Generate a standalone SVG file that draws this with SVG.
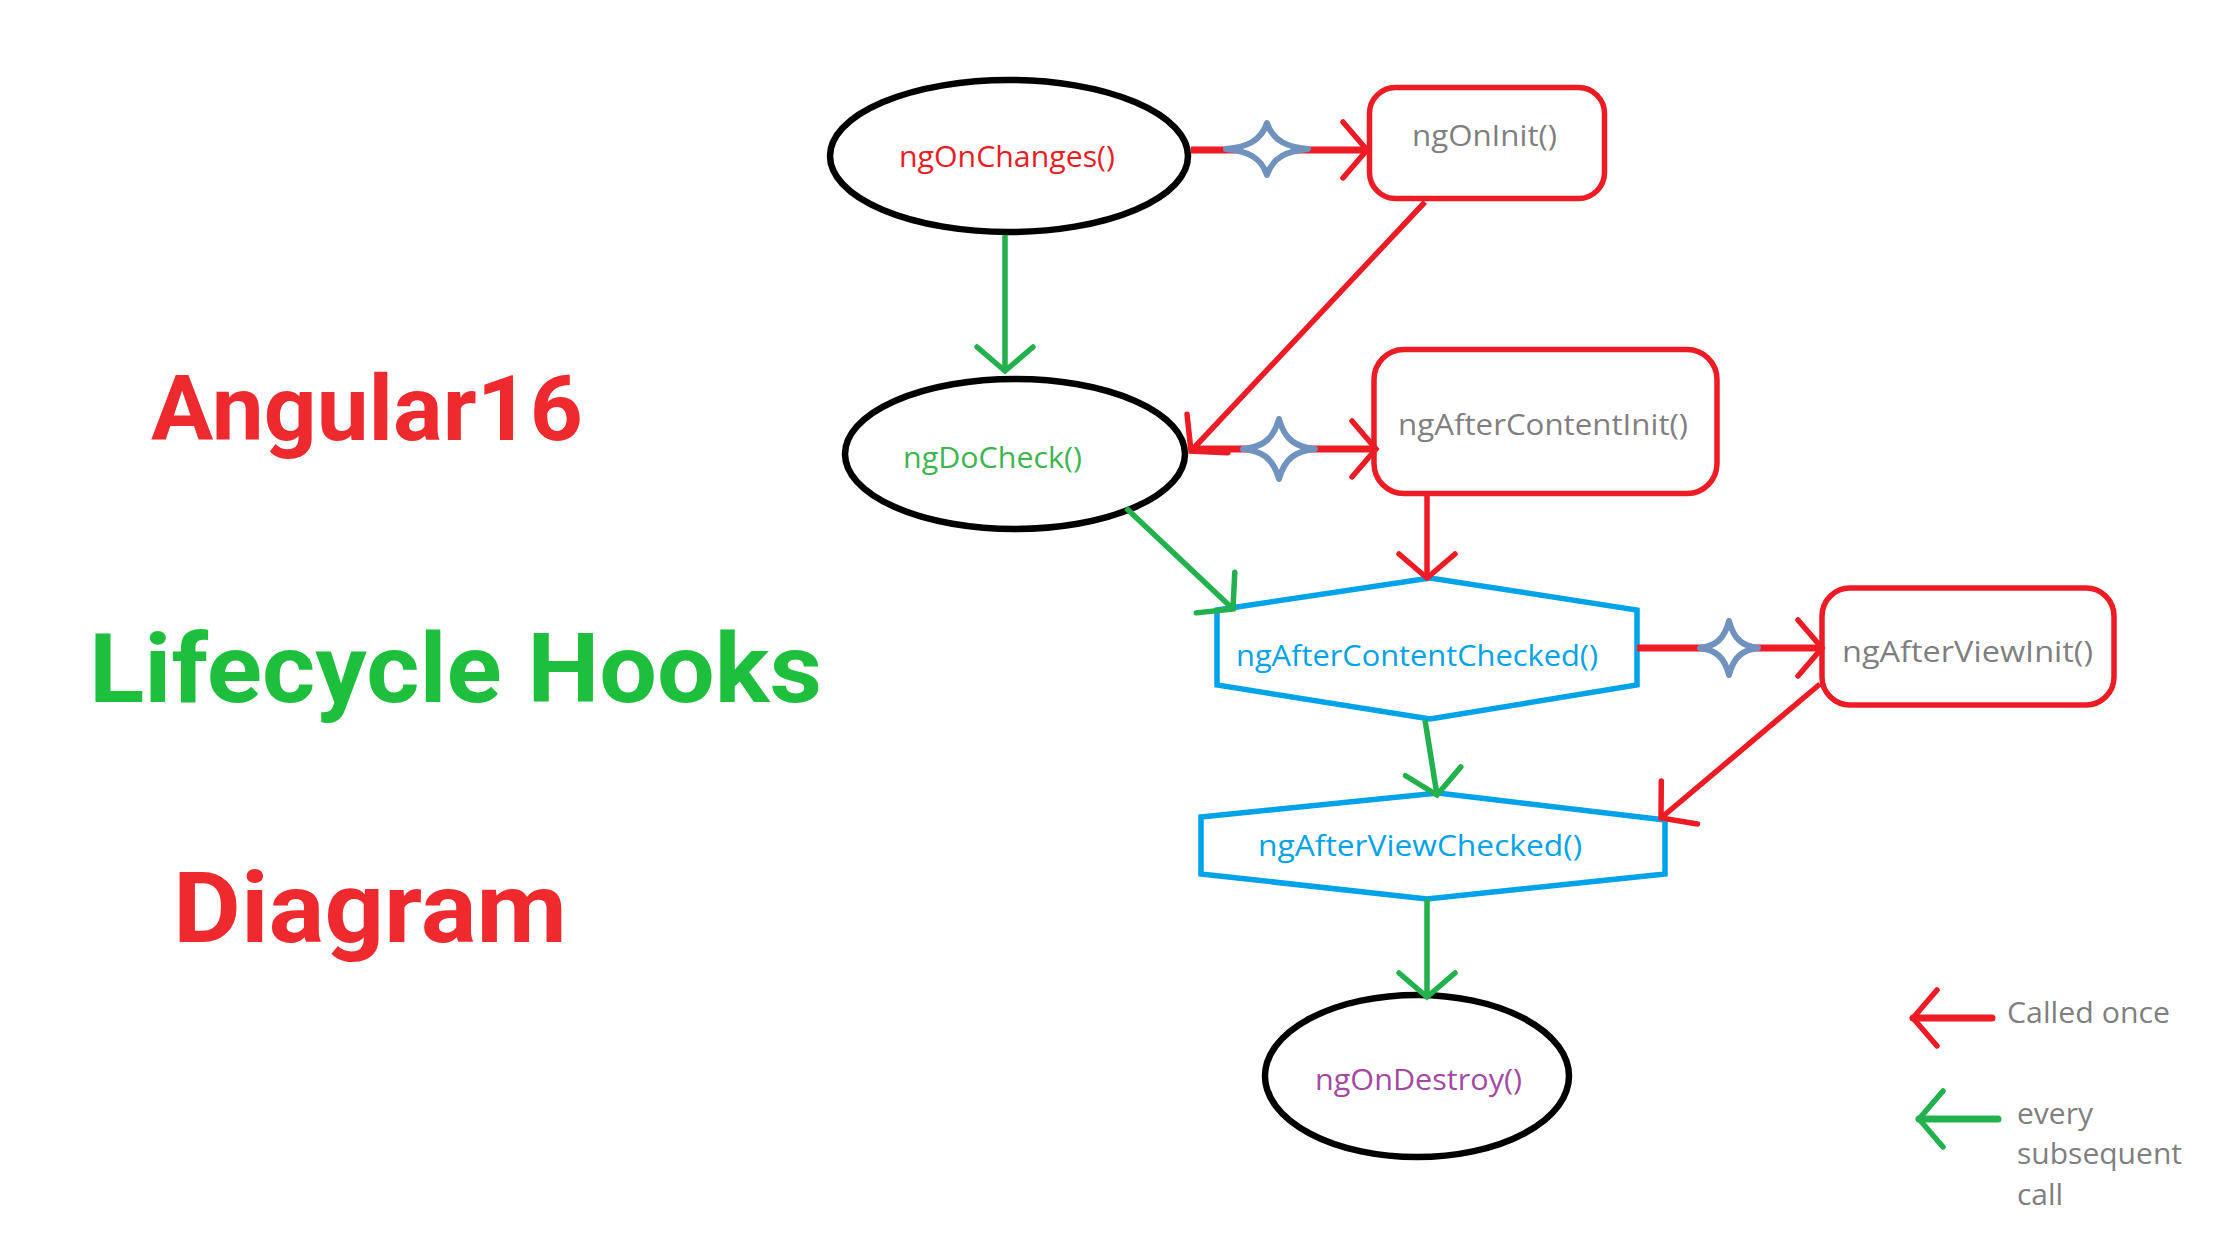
<svg xmlns="http://www.w3.org/2000/svg" width="2240" height="1260" viewBox="0 0 2240 1260">
<style>
.title{font-family:Roboto,"Liberation Sans",sans-serif;font-weight:700}
.lbl{font-family:"Open Sans","Liberation Sans",sans-serif;font-size:30px}
.ell{fill:#fff;stroke:#000;stroke-width:6.5}
.box{fill:#fff;stroke:#ED1C24;stroke-width:5.5}
.hex{fill:#fff;stroke:#00A2E8;stroke-width:5.5;stroke-linejoin:miter}
.cr{fill:none;stroke:#ED1C24;stroke-width:5.5;marker-end:url(#aR)}
.cg{fill:none;stroke:#22B14C;stroke-width:5.5;marker-end:url(#aG)}
.thick{stroke-width:7}
.star{fill:#fff;stroke:#7092BE;stroke-width:6;stroke-linejoin:round}
.grey{fill:#7F7F7F}
</style>
<defs>
<marker id="aR" markerUnits="userSpaceOnUse" viewBox="-30 -34 36 68" refX="0" refY="0" markerWidth="36" markerHeight="68" orient="auto" overflow="visible">
<path d="M-24,-28 L0,0 L-24,28" fill="none" stroke="#ED1C24" stroke-width="5.5" stroke-linecap="round"/>
</marker>
<marker id="aG" markerUnits="userSpaceOnUse" viewBox="-30 -34 36 68" refX="0" refY="0" markerWidth="36" markerHeight="68" orient="auto" overflow="visible">
<path d="M-24,-28 L0,0 L-24,28" fill="none" stroke="#22B14C" stroke-width="5.5" stroke-linecap="round"/>
</marker>
</defs>
<rect width="2240" height="1260" fill="#fff"/>

<g id="titles">
<text class="title" x="151" y="440" font-size="90" fill="#EE2A2E" textLength="432" lengthAdjust="spacingAndGlyphs">Angular16</text>
<text class="title" x="89" y="702" font-size="96" fill="#1DBF3C" textLength="733" lengthAdjust="spacingAndGlyphs">Lifecycle Hooks</text>
<text class="title" x="173" y="942" font-size="99" fill="#EE2A2E" textLength="394" lengthAdjust="spacingAndGlyphs">Diagram</text>
</g>

<g id="ngOnChanges">
<ellipse class="ell" cx="1009" cy="156" rx="179" ry="76"/>
<text class="lbl" x="899" y="167" fill="#ED1C24" textLength="216" lengthAdjust="spacingAndGlyphs">ngOnChanges()</text>
</g>
<g id="ngOnInit">
<rect class="box" x="1369.5" y="87.5" width="235" height="111" rx="26"/>
<text class="lbl grey" x="1412" y="146" textLength="145" lengthAdjust="spacingAndGlyphs">ngOnInit()</text>
</g>
<g id="ngDoCheck">
<ellipse class="ell" cx="1015" cy="454" rx="170" ry="75"/>
<text class="lbl" x="903" y="468" fill="#3DB54F" textLength="179" lengthAdjust="spacingAndGlyphs">ngDoCheck()</text>
</g>
<g id="ngAfterContentInit">
<rect class="box" x="1374" y="349.5" width="343" height="144" rx="30"/>
<text class="lbl grey" x="1398" y="435" textLength="290" lengthAdjust="spacingAndGlyphs">ngAfterContentInit()</text>
</g>
<g id="ngAfterContentChecked">
<polygon class="hex" points="1217,610 1430,578 1637,610 1637,685 1430,719 1217,685"/>
<text class="lbl" x="1236" y="666" fill="#00A2E8" textLength="362" lengthAdjust="spacingAndGlyphs">ngAfterContentChecked()</text>
</g>
<g id="ngAfterViewInit">
<rect class="box" x="1822" y="588" width="292" height="117" rx="28"/>
<text class="lbl grey" x="1842" y="662" textLength="251" lengthAdjust="spacingAndGlyphs">ngAfterViewInit()</text>
</g>
<g id="ngAfterViewChecked">
<polygon class="hex" points="1201,817 1438,793 1665,820 1665,874 1427,899 1201,874"/>
<text class="lbl" x="1258" y="856" fill="#00A2E8" textLength="324" lengthAdjust="spacingAndGlyphs">ngAfterViewChecked()</text>
</g>
<g id="ngOnDestroy">
<ellipse class="ell" cx="1417" cy="1076" rx="152" ry="81"/>
<text class="lbl" x="1315" y="1090" fill="#A349A4" textLength="207" lengthAdjust="spacingAndGlyphs">ngOnDestroy()</text>
</g>

<g id="connectors">
<line class="cr thick" x1="1191" y1="150" x2="1367" y2="150"/>
<path class="star" d="M-41,0 C-20,-2 -6,-8 0,-26 C6,-8 20,-2 41,0 C20,2 6,8 0,26 C-6,8 -20,2 -41,0 Z" transform="translate(1267,149)"/>
<line class="cg" x1="1005" y1="235" x2="1005" y2="371"/>
<line class="cr" x1="1425" y1="202" x2="1191" y2="451"/>
<line class="cr thick" x1="1190" y1="449" x2="1376" y2="449"/>
<path class="star" d="M-36,0 C-18,-2 -6,-8 0,-30 C6,-8 18,-2 36,0 C18,2 6,8 0,30 C-6,8 -18,2 -36,0 Z" transform="translate(1279,449)"/>
<line class="cr" x1="1427" y1="496" x2="1427" y2="578"/>
<line class="cg" x1="1126" y1="508" x2="1233" y2="609"/>
<line class="cr thick" x1="1637" y1="648" x2="1822" y2="648"/>
<path class="star" d="M-29,0 C-14,-2 -5,-8 0,-27 C5,-8 14,-2 29,0 C14,2 5,8 0,27 C-5,8 -14,2 -29,0 Z" transform="translate(1729,648)"/>
<line class="cr" x1="1820" y1="684" x2="1661" y2="818"/>
<line class="cg" x1="1425" y1="720" x2="1437" y2="795"/>
<line class="cg" x1="1427" y1="899" x2="1427" y2="997"/>
</g>

<g id="legend">
<line class="cr thick" x1="1992" y1="1018" x2="1913" y2="1018" stroke-linecap="round"/>
<text class="lbl grey" x="2007" y="1023" textLength="163" lengthAdjust="spacingAndGlyphs">Called once</text>
<line class="cg thick" x1="1998" y1="1119" x2="1919" y2="1119" stroke-linecap="round"/>
<text class="lbl grey" x="2017" y="1124">every</text>
<text class="lbl grey" x="2017" y="1164" textLength="165" lengthAdjust="spacingAndGlyphs">subsequent</text>
<text class="lbl grey" x="2017" y="1205">call</text>
</g>
</svg>
